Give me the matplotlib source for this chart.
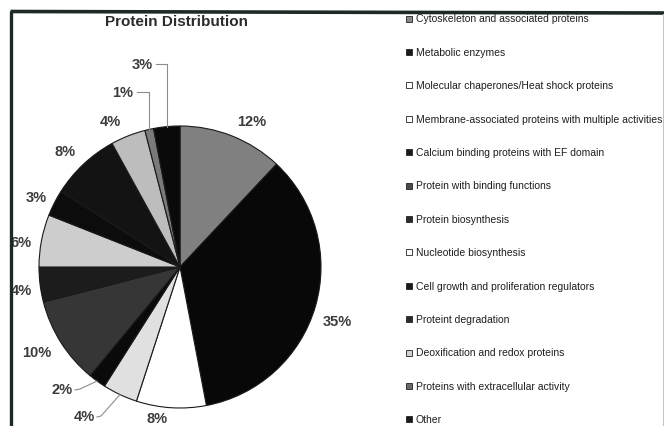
import matplotlib.pyplot as plt
from matplotlib.patches import Rectangle
import numpy as np

# ---- data -------------------------------------------------------------
categories = [
    "Cytoskeleton and associated proteins",
    "Metabolic enzymes",
    "Molecular chaperones/Heat shock proteins",
    "Membrane-associated proteins with multiple activities",
    "Calcium binding proteins with EF domain",
    "Protein with binding functions",
    "Protein biosynthesis",
    "Nucleotide biosynthesis",
    "Cell growth and proliferation regulators",
    "Proteint degradation",
    "Deoxification and redox proteins",
    "Proteins with extracellular activity",
    "Other",
]
shares = [12, 35, 8, 4, 2, 10, 4, 6, 3, 8, 4, 1, 3]
pct_labels = [f"{v}%" for v in shares]

# ---- style ------------------------------------------------------------
slice_colors = ["#808080", "#080808", "#ffffff", "#e0e0e0", "#0a0a0a",
                "#363636", "#1c1c1c", "#cdcdcd", "#0c0c0c", "#131313",
                "#bdbdbd", "#7a7a7a", "#0a0a0a"]
legend_colors = ["#8a8a8a", "#1a1a1a", "#ffffff", "#ffffff", "#1a1a1a",
                 "#4a4a4a", "#2a2a2a", "#ffffff", "#1a1a1a", "#2a2a2a",
                 "#d0d0d0", "#6a6a6a", "#1a1a1a"]

W, H = 664, 427
fig = plt.figure(figsize=(W / 100, H / 100), dpi=100)
ax = fig.add_axes([0, 0, 1, 1])

# pixel-style coordinates, y grows downward
cx, cy, R = 180, 268, 141
wedges, _ = ax.pie(shares, colors=slice_colors, startangle=-90,
                   counterclock=True, center=(cx, cy), radius=R, frame=True,
                   wedgeprops=dict(edgecolor="#1a1a1a", linewidth=0.8))
ax.set_xlim(0, W)
ax.set_ylim(H, 0)
ax.axis("off")

# ---- percentage labels -------------------------------------------------
label_pos = [(252, 122), (337, 322), (157, 419), (84, 417), (62, 390),
             (37, 353), (21, 291), (21, 243), (36, 198), (65, 152),
             (110, 122), (123, 93), (142, 65)]
for txt, (lx, ly) in zip(pct_labels, label_pos):
    ax.text(lx, ly, txt, ha="center", va="center", fontsize=10.5,
            fontweight="bold", color="#3c3c3c", family="Liberation Sans")

# leader lines for the narrow slices: start point, elbow, then slice edge
cum = np.cumsum([0] + shares[:-1])
mid_deg = -90 + (cum + np.array(shares) / 2) * 3.6
leaders = {3: ((97, 418), (101, 417)),
           4: ((75, 391), (80, 390)),
           11: ((137, 93), None),
           12: ((156, 65), None)}
for i, (start, elbow) in leaders.items():
    ex = cx + R * np.cos(np.radians(mid_deg[i]))
    ey = cy + R * np.sin(np.radians(mid_deg[i]))
    if elbow is None:
        elbow = (ex, start[1])
    ax.plot([start[0], elbow[0], ex], [start[1], elbow[1], ey],
            color="#8c8c8c", lw=0.8, zorder=4)

# ---- title ------------------------------------------------------------
ax.text(176, 22, "Protein Distribution", ha="center", va="center",
        fontsize=11, fontweight="bold", color="#2c2c2c",
        family="Liberation Sans")

# ---- legend -----------------------------------------------------------
leg_x, leg_y0, leg_step, box = 406, 19.5, 33.4, 6
for i, (name, col) in enumerate(zip(categories, legend_colors)):
    y = leg_y0 + i * leg_step
    ax.add_patch(Rectangle((leg_x, y - box / 2), box, box, facecolor=col,
                           edgecolor="#222222", lw=0.6, zorder=5))
    ax.text(leg_x + box + 4, y, name, ha="left", va="center", fontsize=7.5,
            color="#1e1e1e", family="Liberation Sans", zorder=5)

# ---- chart frame ------------------------------------------------------
ax.plot([10.5, W], [12.5, 14], color="#1d2a23", lw=2.6, zorder=10,
        solid_capstyle="butt")
ax.plot([10.5, 10.5], [11.5, H], color="#1d2a23", lw=2.4, zorder=10,
        solid_capstyle="butt")
ax.plot([663, 663], [15, H], color="#c4c4c4", lw=0.8, zorder=10)

fig.savefig("out.png", dpi=100)
